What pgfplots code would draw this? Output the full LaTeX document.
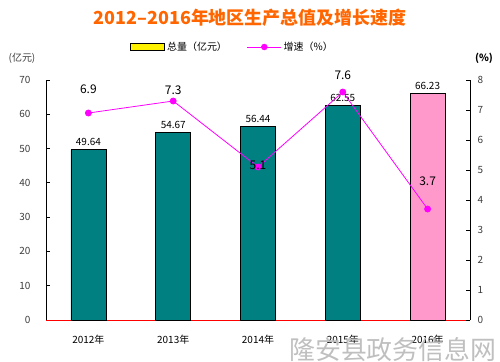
\documentclass[border=0pt]{standalone}
\usepackage{pgfplots}
\pgfplotsset{compat=1.18}
\usepackage{pgfplotstable}
\usepackage{fontspec}
\setmainfont{Noto Sans CJK SC}
\definecolor{tealbar}{RGB}{0,128,128}
\definecolor{pinkbar}{RGB}{255,153,204}
\definecolor{mag}{RGB}{255,0,255}
\definecolor{titleor}{RGB}{255,102,0}
\definecolor{ticktxt}{RGB}{60,60,60}
\pgfplotstableread{
x val
0 49.64
1 54.67
2 56.44
3 62.55
}\gdpA
\pgfplotstableread{
x val
4 66.23
}\gdpB
\pgfplotstableread{
x g dy
0 6.9 24
1 7.3 11
2 5.1 2
3 7.6 17
4 3.7 28
}\growth
\begin{document}
\begin{tikzpicture}[x=1bp,y=1bp]
\useasboundingbox (0,0) rectangle (500,361);
\node[font=\fontsize{18}{20}\selectfont\bfseries, text=titleor] at (250,343) {2012--2016年地区生产总值及增长速度};
\node[font=\fontsize{10}{12}\selectfont, text=ticktxt] at (22,303) {(亿元)};
\node[font=\fontsize{10}{12}\selectfont\bfseries, text=black] at (484,303) {(\%)};
\begin{axis}[
  at={(46bp,41bp)}, anchor=south west, scale only axis,
  width=424bp, height=240bp,
  xmin=-0.5, xmax=4.5, ymin=0, ymax=70,
  ytick={0,10,...,70},
  xtick={0,...,4},
  xticklabels={2012年,2013年,2014年,2015年,2016年},
  extra x ticks={0.5,1.5,2.5,3.5},
  extra x tick labels={},
  extra x tick style={major tick length=4bp, tick style={red, thick}},
  major tick length=4bp,
  tick align=inside,
  axis x line*=bottom, axis y line*=left,
  x axis line style={red, thick, -},
  y axis line style={black, thick, -},
  xtick style={draw=none},
  ytick style={black, thick},
  /pgf/number format/assume math mode=true,
  tick label style={font=\fontsize{10}{12}\selectfont, text=ticktxt},
  yticklabel style={xshift=-12bp},
  xticklabel style={yshift=-8bp, text=black},
  ybar, bar width=35bp,
  nodes near coords,
  every node near coord/.append style={font=\fontsize{10}{12}\selectfont, text=black, /pgf/number format/.cd, fixed, precision=2, fixed zerofill, assume math mode=true},
  clip=false,
]
\addplot[ybar, bar shift=0pt, fill=tealbar, draw=black, thick] table[x=x,y=val] {\gdpA};
\addplot[ybar, bar shift=0pt, fill=pinkbar, draw=black, thick] table[x=x,y=val] {\gdpB};
\end{axis}
\begin{axis}[
  at={(46bp,41bp)}, anchor=south west, scale only axis,
  width=424bp, height=240bp,
  xmin=-0.5, xmax=4.5, ymin=0, ymax=8,
  ytick={0,...,8},
  axis x line=none, axis y line*=right,
  y axis line style={black, thick, -},
  ytick style={black, thick},
  tick align=inside, major tick length=4bp,
  /pgf/number format/assume math mode=true,
  tick label style={font=\fontsize{10}{12}\selectfont, text=ticktxt},
  yticklabel style={xshift=4bp},
  clip=false,
  legend style={at={(0.44,1.1375)}, anchor=center, draw=none, fill=none,
    legend columns=2, font=\fontsize{10}{12}\selectfont,
    /tikz/every even column/.append style={column sep=18bp}},
]
\addlegendimage{legend image code/.code={\draw[fill=yellow, draw=black, thick] (0bp,-3.5bp) rectangle (34bp,3.5bp);}}
\addlegendentry{总量（亿元）}
\addlegendimage{legend image code/.code={\draw[mag, thick] (0bp,0bp) -- (34bp,0bp); \fill[mag] (17bp,0bp) circle (3bp);}}
\addlegendentry{增速（\%）}
\addplot[mag, thick, mark=*, mark size=3bp,
  nodes near coords, point meta=explicit symbolic,
  visualization depends on={\thisrow{dy} \as \dy},
  every node near coord/.append style={font=\fontsize{12}{14}\selectfont, text=black, anchor=center, yshift=\dy}]
  table[x=x, y=g, meta=g] {\growth};
\end{axis}
\node[font=\fontsize{26}{28}\selectfont, text=black!25, anchor=south east] at (500,-4) {隆安县政务信息网};
\end{tikzpicture}
\end{document}
